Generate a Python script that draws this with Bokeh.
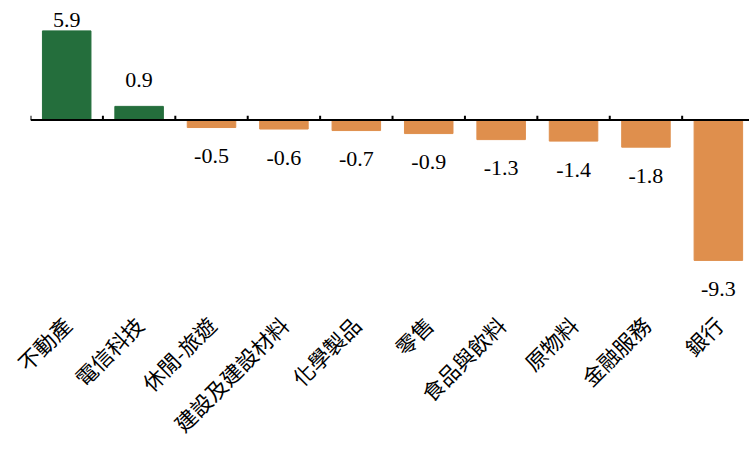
import numpy as np
from bokeh.plotting import figure
from bokeh.models import Range1d, FixedTicker, Span, ColumnDataSource
from bokeh.core.properties import value
from bokeh.embed import file_html
from bokeh.resources import INLINE

categories = ["不動產", "電信科技", "休閒-旅遊", "建設及建設材料", "化學製品",
              "零售", "食品與飲料", "原物料", "金融服務", "銀行"]
values = [5.9, 0.9, -0.5, -0.6, -0.7, -0.9, -1.3, -1.4, -1.8, -9.3]
pos_color = "#246E3C"
neg_color = "#DF8F4D"

idx = np.arange(len(categories))
vals = np.array(values)
colors = [pos_color if v >= 0 else neg_color for v in values]
labels = [f"{v:.1f}" for v in values]
label_y = np.where(vals >= 0, np.minimum(vals + 1.72, 6.62), vals - 1.9)

src = ColumnDataSource(dict(x=idx, top=vals, color=colors, label=labels, ly=label_y))

p = figure(width=749, height=451, output_backend="svg", toolbar_location=None,
           x_range=Range1d(-0.5, 9.43), y_range=Range1d(-11.69, 7.25),
           min_border_left=30, min_border_right=0, min_border_top=10, min_border_bottom=155)
p.outline_line_color = None
p.xgrid.visible = False
p.ygrid.visible = False
p.yaxis.visible = False
p.background_fill_color = "white"
p.border_fill_color = "white"

p.vbar(x="x", top="top", bottom=0, width=0.67, color="color", source=src)

p.add_layout(Span(location=0, dimension="width", line_color="black", line_width=2))
bounds = idx - 0.5
p.segment(x0=bounds, y0=np.zeros_like(bounds), x1=bounds, y1=np.full_like(bounds, 0.28),
          line_color="black", line_width=2)

p.text(x="x", y="ly", text="label", source=src, text_align="center", text_baseline="middle",
       text_font=value("Liberation Serif"), text_font_size="22px", text_color="black")

ax = p.xaxis[0]
ax.ticker = FixedTicker(ticks=list(idx))
ax.major_label_overrides = {int(i): c for i, c in zip(idx, categories)}
ax.major_label_orientation = np.pi / 4
ax.axis_line_color = None
ax.major_tick_line_color = None
ax.minor_tick_line_color = None
ax.major_tick_out = 0
ax.major_tick_in = 0
ax.major_label_standoff = 24
ax.major_label_text_font = "Noto Sans CJK TC"
ax.major_label_text_font_size = "21.5px"
ax.major_label_text_color = "black"

open("out.html", "w").write(file_html(p, INLINE))
